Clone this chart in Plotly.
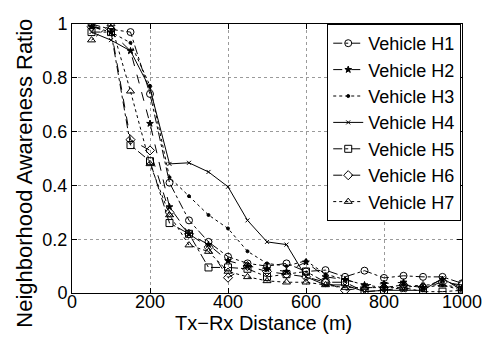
import plotly.graph_objects as go

# Tx-Rx distance bins (m)
distance = [50, 100, 150, 200, 250, 300, 350, 400, 450, 500,
            550, 600, 650, 700, 750, 800, 850, 900, 950, 1000]

# Neighborhood awareness ratio per vehicle
h1 = [1.00, 0.98, 0.97, 0.74, 0.41, 0.27, 0.19, 0.135, 0.11, 0.10,
      0.11, 0.08, 0.085, 0.06, 0.083, 0.056, 0.064, 0.06, 0.06, 0.036]
h2 = [0.99, 0.97, 0.90, 0.63, 0.32, 0.22, 0.18, 0.12, 0.10, 0.09,
      0.08, 0.115, 0.06, 0.05, 0.03, 0.035, 0.04, 0.02, 0.05, 0.02]
h3 = [0.99, 0.97, 0.93, 0.77, 0.43, 0.36, 0.29, 0.24, 0.155, 0.11,
      0.10, 0.12, 0.07, 0.05, 0.03, 0.02, 0.03, 0.02, 0.03, 0.02]
h4 = [0.97, 0.94, 0.90, 0.76, 0.48, 0.484, 0.45, 0.395, 0.27, 0.19,
      0.18, 0.06, 0.03, 0.03, 0.005, 0.01, 0.01, 0.01, 0.055, 0.01]
h5 = [0.97, 0.97, 0.55, 0.49, 0.26, 0.22, 0.095, 0.095, 0.09, 0.06,
      0.07, 0.08, 0.04, 0.04, 0.005, 0.01, 0.02, 0.005, 0.005, 0.01]
h6 = [0.99, 0.98, 0.57, 0.53, 0.30, 0.22, 0.17, 0.057, 0.10, 0.08,
      0.07, 0.06, 0.04, 0.01, 0.02, 0.02, 0.03, 0.02, 0.04, 0.03]
h7 = [0.94, 1.00, 0.75, 0.48, 0.29, 0.178, 0.154, 0.08, 0.06, 0.045,
      0.04, 0.04, 0.03, 0.02, 0.02, 0.02, 0.02, 0.03, 0.03, 0.01]

series = [
    ("Vehicle H1", h1, "dashdot", "circle-open", 7),
    ("Vehicle H2", h2, "dash", "star", 5),
    ("Vehicle H3", h3, "dot", "circle", 3),
    ("Vehicle H4", h4, "solid", "x-thin-open", 4),
    ("Vehicle H5", h5, "dashdot", "square-open", 7),
    ("Vehicle H6", h6, "dash", "diamond-open", 7),
    ("Vehicle H7", h7, "dot", "triangle-up-open", 7),
]

FONT = "Liberation Sans, Arial, Helvetica, sans-serif"

fig = go.Figure()
for name, vals, dash, symbol, size in series:
    fig.add_trace(go.Scatter(
        x=distance, y=vals, name=name, mode="lines+markers",
        line=dict(color="black", width=1, dash=dash),
        marker=dict(symbol=symbol, size=size, color="black",
                    line=dict(color="black", width=1)),
    ))

axis_common = dict(
    showline=True, linecolor="black", linewidth=1, mirror="ticks",
    ticks="inside", ticklen=5, tickcolor="black",
    showgrid=True, gridcolor="#9a9a9a", griddash="dot", gridwidth=1,
    zeroline=False, tickfont=dict(size=18, color="black", family=FONT),
)

fig.update_xaxes(range=[0, 1000], tickvals=[0, 200, 400, 600, 800, 1000],
                 ticklabelstandoff=-8, **axis_common)
fig.update_yaxes(range=[0, 1], tickvals=[0, 0.2, 0.4, 0.6, 0.8, 1],
                 ticktext=["0", "0.2", "0.4", "0.6", "0.8", "1"],
                 **axis_common)

fig.add_annotation(text="Tx\u2212Rx Distance (m)", xref="paper", yref="paper",
                   x=0.491, y=-0.112, xanchor="center", yanchor="middle",
                   showarrow=False, font=dict(size=20, color="black", family=FONT))
fig.add_annotation(text="Neighborhood Awareness Ratio", xref="paper", yref="paper",
                   x=-0.124, y=0.446, xanchor="center", yanchor="middle",
                   textangle=-90, showarrow=False,
                   font=dict(size=22, color="black", family=FONT))

fig.update_layout(
    width=494, height=340,
    margin=dict(l=72, r=26, t=24, b=47),
    paper_bgcolor="white", plot_bgcolor="white",
    font=dict(family=FONT, color="black"),
    legend=dict(x=0.998, y=1.0, xanchor="right", yanchor="top",
                bgcolor="white", bordercolor="black", borderwidth=1,
                font=dict(size=18, color="black", family=FONT),
                tracegroupgap=0, itemwidth=30),
)

fig.write_html("out.html")
